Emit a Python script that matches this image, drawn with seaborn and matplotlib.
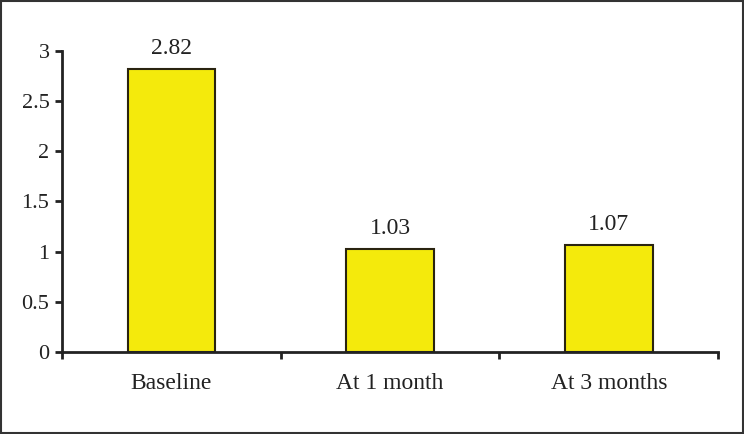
import matplotlib
matplotlib.use('Agg')
import matplotlib.pyplot as plt
import seaborn as sns
import pandas as pd
from matplotlib.patches import Rectangle

# values
categories = ['Baseline', 'At 1 month', 'At 3 months']
scores = [2.82, 1.03, 1.07]
y_ticks = [0, 0.5, 1, 1.5, 2, 2.5, 3]
y_tick_labels = ['0', '0.5', '1', '1.5', '2', '2.5', '3']

sns.set_style('white')
plt.rcParams['font.family'] = ['Liberation Serif', 'DejaVu Serif']

data = pd.DataFrame({'period': categories, 'score': scores})

fig = plt.figure(figsize=(7.44, 4.34), dpi=100)
ax = fig.add_axes([0.0833, 0.189, 0.882, 0.6935])

sns.barplot(data=data, x='period', y='score', color='#F4EA0C', width=0.4,
            edgecolor='#2a2410', linewidth=1.5, saturation=1, ax=ax)

ax.bar_label(ax.containers[0], labels=[f'{v:.2f}' for v in scores],
             padding=7, fontsize=17, color='#222222')

ax.set_ylim(0, 3)
ax.set_xlim(-0.5, 2.5)
ax.set_yticks(y_ticks)
ax.set_yticklabels(y_tick_labels)
ax.set_xlabel('')
ax.set_ylabel('')

ax.set_xticks([-0.5, 0.5, 1.5, 2.5], minor=True)
ax.tick_params(axis='x', which='major', bottom=True, length=0, pad=15,
               labelsize=17, colors='#222222')
ax.tick_params(axis='x', which='minor', bottom=True, length=5, width=2,
               direction='out', color='#222222')
ax.tick_params(axis='y', left=True, length=5, width=2, direction='out', pad=4,
               labelsize=16, colors='#222222')

for side in ['top', 'right']:
    ax.spines[side].set_visible(False)
for side in ['left', 'bottom']:
    ax.spines[side].set_linewidth(2)
    ax.spines[side].set_color('#222222')

# frame round the whole picture
fig.patches.append(Rectangle((0.002, 0.003), 0.996, 0.994, transform=fig.transFigure,
                             fill=False, edgecolor='#333333', linewidth=1.5))

fig.savefig('out.png', dpi=100)
